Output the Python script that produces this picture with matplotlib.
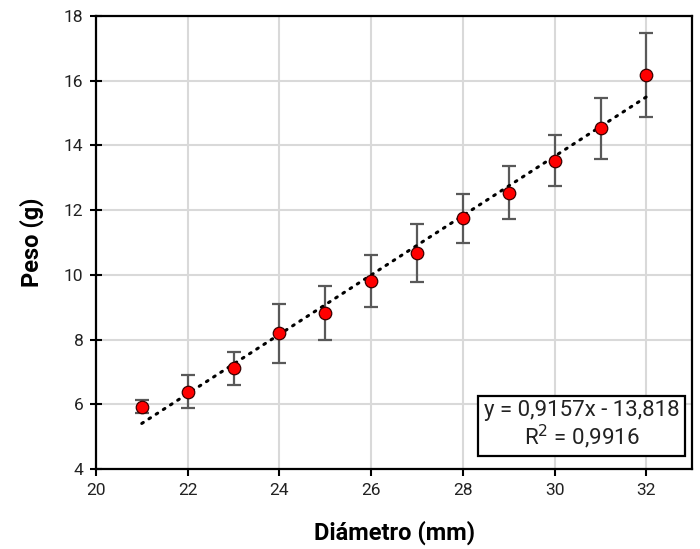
import numpy as np
import matplotlib.pyplot as plt

plt.rcParams["font.family"] = ["Roboto", "DejaVu Sans"]

diametro = [21, 22, 23, 24, 25, 26, 27, 28, 29, 30, 31, 32]
peso = [5.93, 6.39, 7.11, 8.19, 8.81, 9.81, 10.67, 11.75, 12.54, 13.53, 14.53, 16.18]
erro = [0.20, 0.51, 0.51, 0.91, 0.83, 0.81, 0.89, 0.76, 0.83, 0.79, 0.94, 1.30]

eq_text = "y = 0,9157x - 13,818\nR$^2$ = 0,9916"

fig = plt.figure(figsize=(7, 5.49), dpi=100)
ax = fig.add_axes([0.137, 0.1457, 0.852, 0.8253])

ax.grid(True, color="#d9d9d9", linewidth=1.5, zorder=0)
ax.set_axisbelow(True)

# linha de tendência
coef = np.polyfit(diametro, peso, 1)
xs = np.array([diametro[0], diametro[-1]])
ax.plot(xs, np.polyval(coef, xs), color="black", linestyle=(0, (0.6, 2.2)),
        linewidth=2.2, dash_capstyle="round", zorder=3)

ax.errorbar(diametro, peso, yerr=erro, fmt="none", ecolor="#595959",
            elinewidth=1.6, capsize=5, capthick=1.6, zorder=2)
ax.plot(diametro, peso, "o", color="#ff0000", markeredgecolor="#3a0000",
        markersize=9, markeredgewidth=0.9, zorder=4)

ax.set_xlim(20, 33)
ax.set_ylim(4, 18)
ax.set_xticks(range(20, 33, 2))
ax.set_yticks(range(4, 19, 2))

for s in ax.spines.values():
    s.set_linewidth(1.6)
    s.set_color("black")

ax.tick_params(axis="both", labelsize=12.5, width=1.5, length=5, color="black",
               labelcolor="#222222", pad=5)
ax.tick_params(axis="y", direction="inout", length=8)

ax.set_xlabel("Diámetro (mm)", fontsize=17, fontweight="bold", labelpad=16)
ax.set_ylabel("Peso (g)", fontsize=17, fontweight="bold", labelpad=14)

ax.text(0.814, 0.096, eq_text, transform=ax.transAxes, ha="center", va="center",
        fontsize=16, color="#222222", linespacing=1.05, multialignment="center",
        bbox=dict(boxstyle="square,pad=0.25", facecolor="white",
                  edgecolor="black", linewidth=1.6), zorder=5)

fig.savefig("out.png", dpi=100)
